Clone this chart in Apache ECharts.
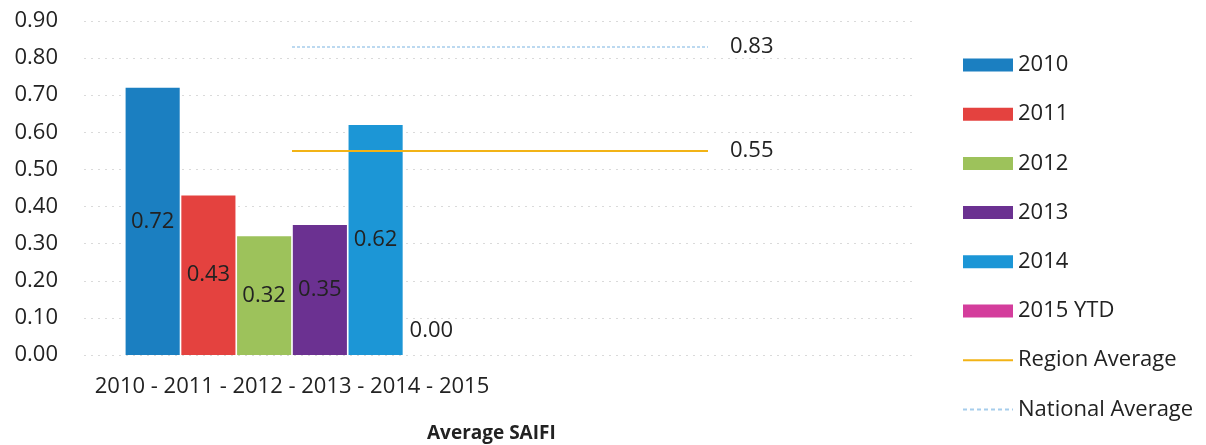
<!DOCTYPE html>
<html>
<head>
<meta charset="utf-8">
<script src="https://cdn.jsdelivr.net/npm/echarts@6/dist/echarts.min.js"></script>
<style>
  html, body { margin: 0; padding: 0; background: #fff; }
  #chart { width: 1206px; height: 445px; }
</style>
</head>
<body>
<div id="chart"></div>
<script>
// Average SAIFI by year, with region and national averages
const categories = ['2010 - 2011 - 2012 - 2013 - 2014 - 2015', ''];
const yearNames = ['2010', '2011', '2012', '2013', '2014', '2015 YTD'];
const yearValues = [0.72, 0.43, 0.32, 0.35, 0.62, 0.00];
const regionAverage = [0.55, 0.55];
const nationalAverage = [0.83, 0.83];
const yTicks = { min: 0, max: 0.9, interval: 0.1 };

const barColors = ['#1b7fc1', '#e4423f', '#9dc25b', '#6b3191', '#1c96d6', '#d43d9c'];
const FONT = 'Open Sans';
const FS = 22;

// Thin legend marks for the two reference lines
const solidLineIcon = 'path://M0,0H50V2H0Z';
const dashedLineIcon = 'path://M0,0H4V2H0Z M7,0H11V2H7Z M14,0H18V2H14Z M21,0H25V2H21Z M28,0H32V2H28Z M35,0H39V2H35Z M42,0H46V2H42Z M49,0H50V2H49Z';

const chart = echarts.init(document.getElementById('chart'), null, { renderer: 'canvas' });

const barSeries = yearNames.map((name, i) => ({
  name,
  type: 'bar',
  barGap: '3%',
  barCategoryGap: '20%',
  data: [yearValues[i], null],
  itemStyle: { color: barColors[i] },
  label: {
    show: true,
    position: yearValues[i] === 0 ? 'top' : 'inside',
    distance: 13,
    formatter: p => p.value.toFixed(2),
    color: '#222',
    fontFamily: FONT,
    fontSize: FS
  }
}));

const lineSeries = [
  {
    name: 'Region Average',
    type: 'line',
    data: regionAverage,
    symbol: 'none',
    lineStyle: { color: '#f2b316', width: 2 },
    itemStyle: { color: '#f2b316' },
    endLabel: {
      show: true, distance: 22, color: '#222', fontFamily: FONT, fontSize: FS,
      formatter: p => p.value.toFixed(2)
    }
  },
  {
    name: 'National Average',
    type: 'line',
    data: nationalAverage,
    symbol: 'none',
    lineStyle: { color: '#a6cdec', width: 1.5, type: [3, 2] },
    itemStyle: { color: '#a6cdec' },
    endLabel: {
      show: true, distance: 22, color: '#222', fontFamily: FONT, fontSize: FS,
      formatter: p => p.value.toFixed(2)
    }
  }
];

chart.setOption({
  backgroundColor: '#fff',
  animation: false,
  title: {
    text: 'Average SAIFI',
    left: 422,
    top: 419,
    textStyle: { fontFamily: FONT, fontSize: 19, fontWeight: 'bold', color: '#222' }
  },
  legend: {
    orient: 'vertical',
    left: 958,
    top: 49,
    itemWidth: 50,
    itemHeight: 13,
    itemGap: 27.2,
    textStyle: { fontFamily: FONT, fontSize: FS, color: '#222' },
    data: [
      ...yearNames.map(n => ({ name: n, icon: 'rect' })),
      { name: 'Region Average', icon: solidLineIcon },
      { name: 'National Average', icon: dashedLineIcon }
    ]
  },
  grid: { left: 84, right: 290, top: 21, bottom: 90 },
  xAxis: {
    type: 'category',
    data: categories,
    axisLine: { show: false },
    axisTick: { show: false },
    axisLabel: { fontFamily: FONT, fontSize: FS, color: '#222', margin: 21 }
  },
  yAxis: {
    type: 'value',
    min: yTicks.min,
    max: yTicks.max,
    interval: yTicks.interval,
    axisLine: { show: false },
    axisTick: { show: false },
    axisLabel: {
      fontFamily: FONT, fontSize: FS, color: '#222', margin: 26,
      formatter: v => v.toFixed(2)
    },
    splitLine: { lineStyle: { color: '#dadada', type: [2, 5], width: 1 } }
  },
  series: [...barSeries, ...lineSeries]
});
</script>
</body>
</html>
